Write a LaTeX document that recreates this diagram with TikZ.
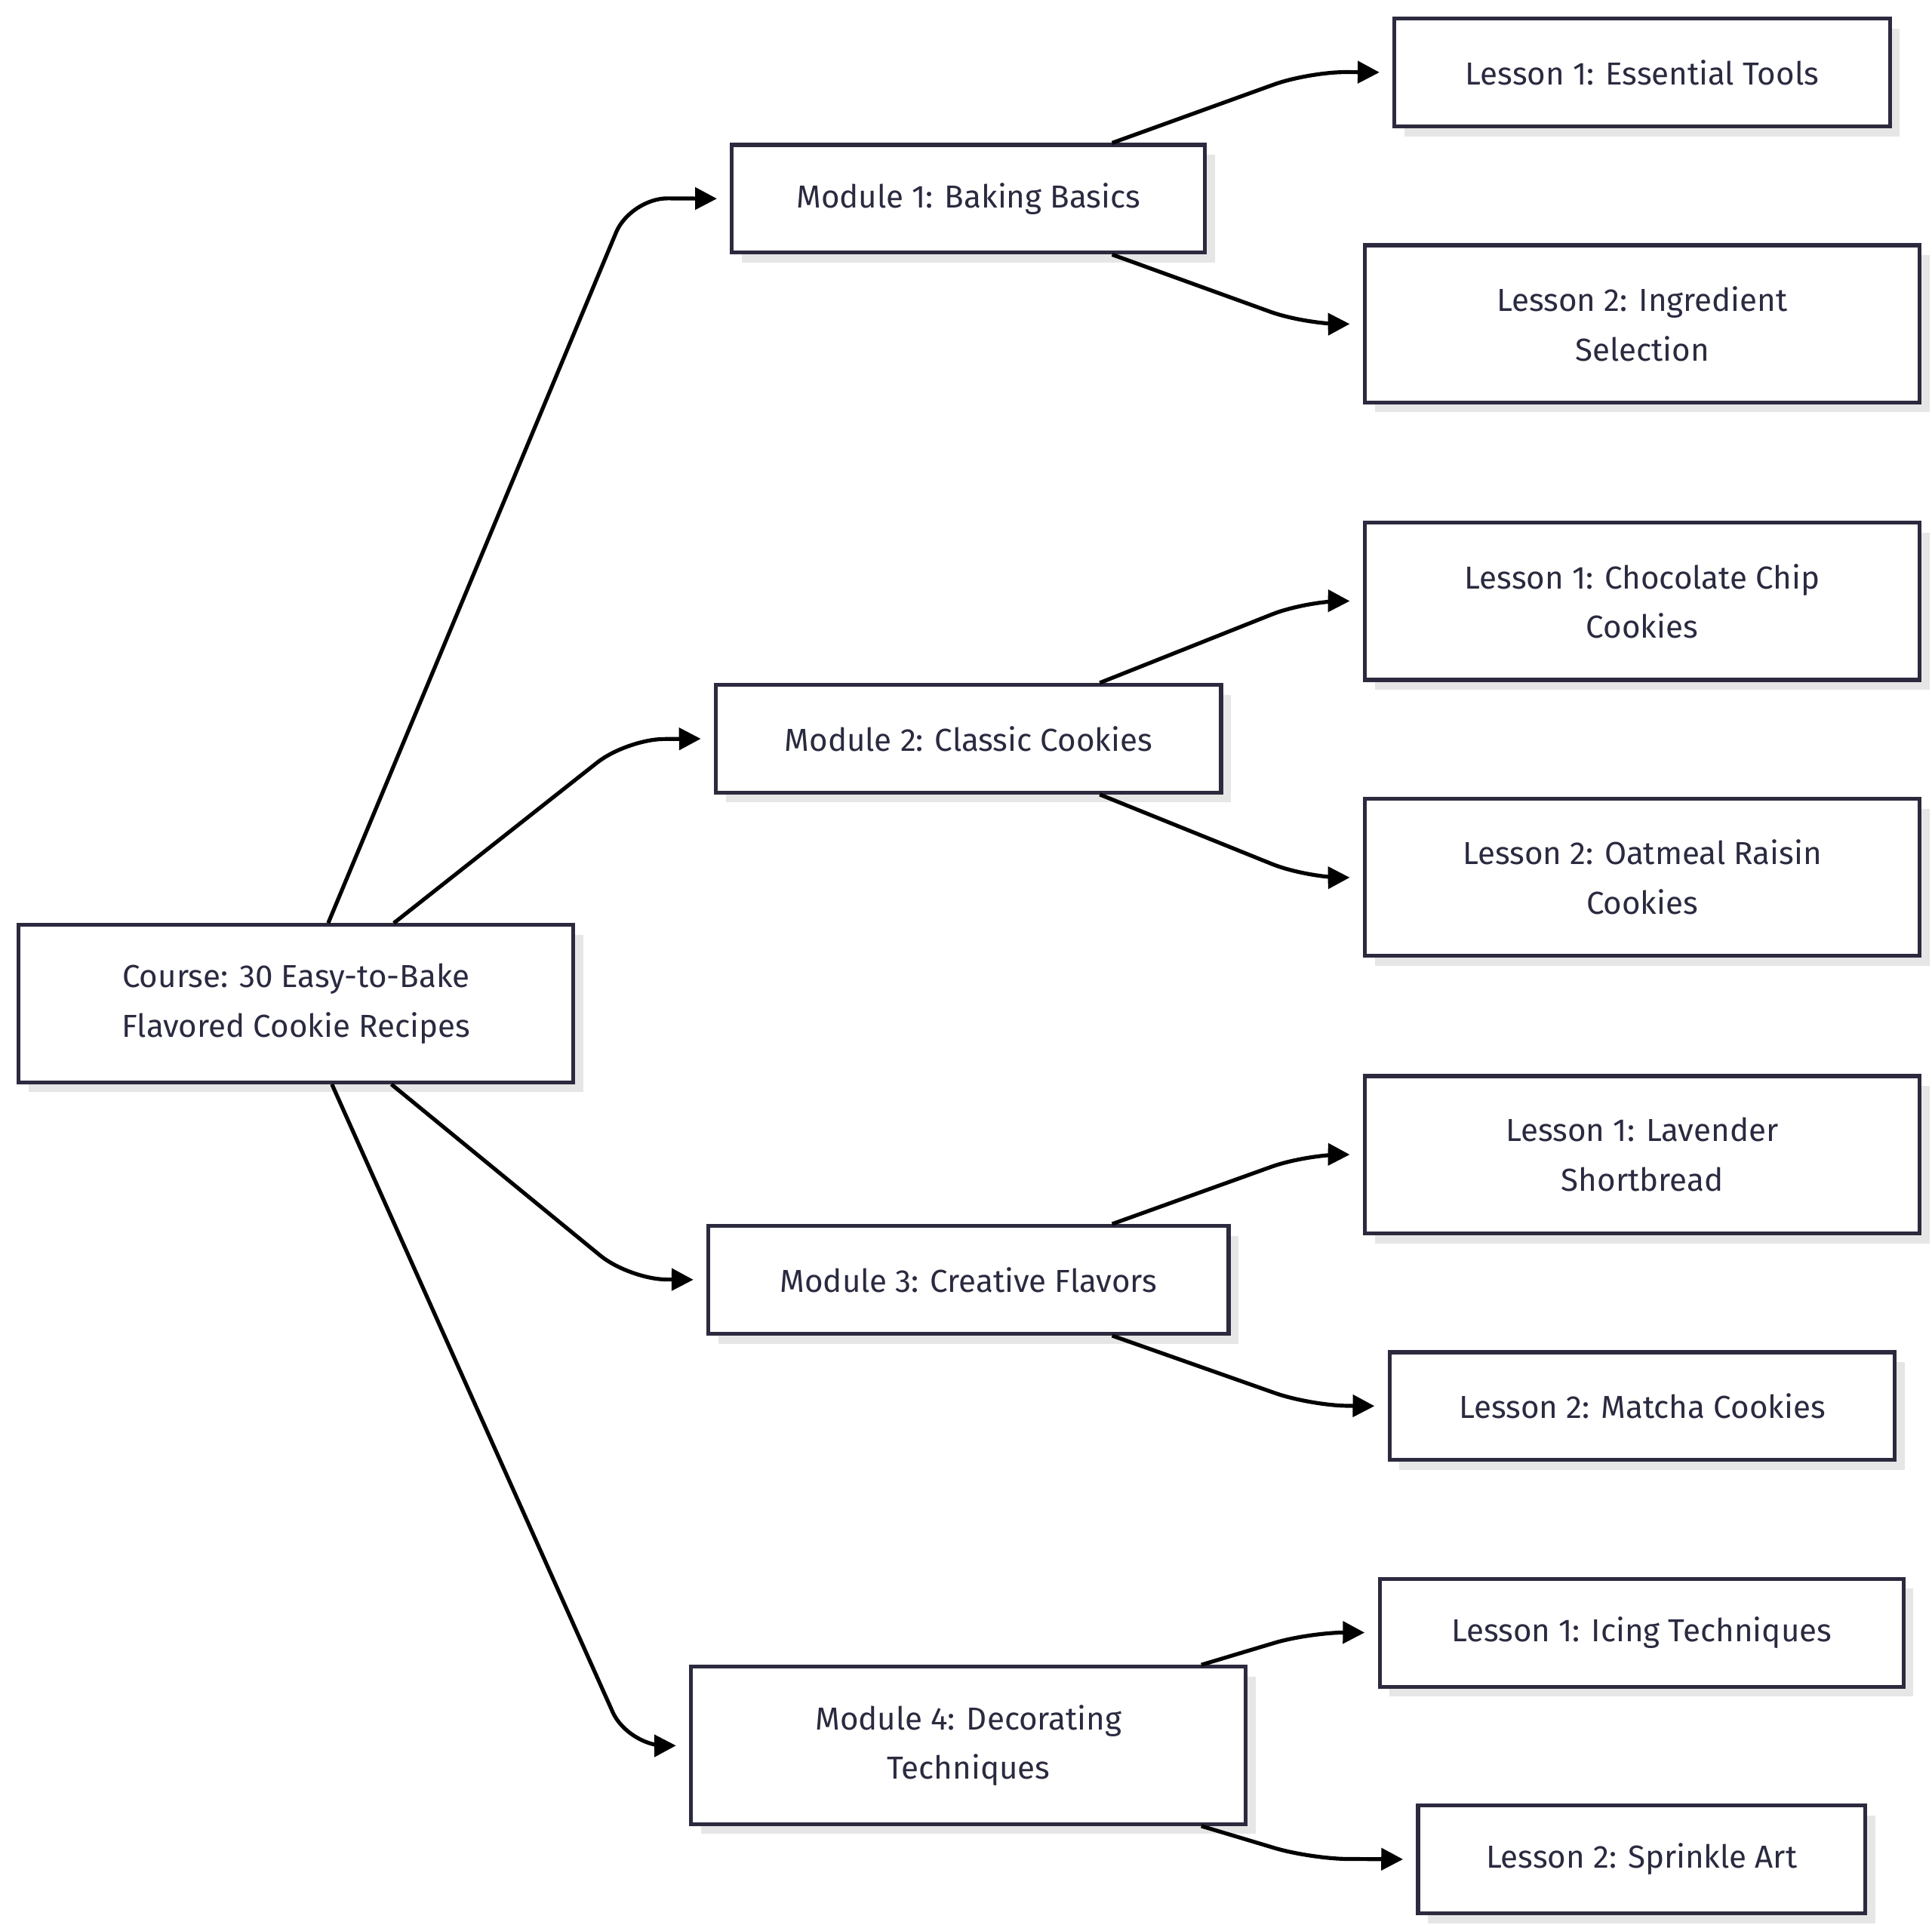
\documentclass[tikz,border=0pt]{standalone}
\usepackage{fontspec}
\setmainfont{Fira Sans}
\usetikzlibrary{arrows.meta}
\definecolor{bd}{HTML}{2C2A3E}
\definecolor{tx}{HTML}{2A2A40}
\definecolor{sh}{HTML}{E6E6E6}
\begin{document}
\begin{tikzpicture}[x=0.01cm,y=-0.01cm,
  box/.style={draw=bd,line width=0.9pt,fill=white,text=tx,align=center,
    font=\fontsize{7.3}{11.4}\selectfont,inner sep=0pt},
  e/.style={draw=black,line width=0.9pt,rounded corners=0.3cm,-{Triangle[length=5pt,width=5pt]},shorten >=3pt}]
\useasboundingbox (0,0) rectangle (1560,1554);
\newcommand{\bx}[6]{%
  \fill[sh] (#2+8,#3+8) rectangle (#4+8,#5+8);
  \node[box,minimum width={(#4-#2)*0.01cm},minimum height={(#5-#3)*0.01cm}] (#1) at ({(#2+#4)/2},{(#3+#5)/2}) {#6};}
\bx{c}{15}{747}{463}{874}{Course: 30 Easy-to-Bake\\Flavored Cookie Recipes}
\bx{m1}{591}{117}{973}{204}{Module 1: Baking Basics}
\bx{m2}{578}{553}{986}{640}{Module 2: Classic Cookies}
\bx{m3}{572}{990}{992}{1077}{Module 3: Creative Flavors}
\bx{m4}{558}{1346}{1006}{1473}{Module 4: Decorating\\Techniques}
\bx{a1}{1126}{15}{1526}{102}{Lesson 1: Essential Tools}
\bx{a2}{1102}{198}{1550}{325}{Lesson 2: Ingredient\\Selection}
\bx{b1}{1102}{422}{1550}{549}{Lesson 1: Chocolate Chip\\Cookies}
\bx{b2}{1102}{645}{1550}{772}{Lesson 2: Oatmeal Raisin\\Cookies}
\bx{c1}{1102}{869}{1550}{996}{Lesson 1: Lavender\\Shortbread}
\bx{c2}{1122}{1092}{1530}{1179}{Lesson 2: Matcha Cookies}
\bx{d1}{1114}{1275}{1537}{1362}{Lesson 1: Icing Techniques}
\bx{d2}{1145}{1458}{1506}{1545}{Lesson 2: Sprinkle Art}
\draw[e] (c.north -| 265,0) -- (509,160) -- (m1.west);
\draw[e] (c.north -| 318,0) -- (506,597) -- (m2.west);
\draw[e] (c.south -| 316,0) -- (508,1033) -- (m3.west);
\draw[e] (c.south -| 268,0) -- (507,1410) -- (m4.west);
\draw[e] (m1.north -| 898,0) -- (1057,58) -- (a1.west);
\draw[e] (m1.south -| 898,0) -- (1054,262) -- (a2.west);
\draw[e] (m2.north -| 888,0) -- (1055,485) -- (b1.west);
\draw[e] (m2.south -| 888,0) -- (1055,709) -- (b2.west);
\draw[e] (m3.north -| 898,0) -- (1055,932) -- (c1.west);
\draw[e] (m3.south -| 898,0) -- (1058,1135) -- (c2.west);
\draw[e] (m4.north -| 970,0) -- (1058,1318) -- (d1.west);
\draw[e] (m4.south -| 970,0) -- (1058,1501) -- (d2.west);
\end{tikzpicture}
\end{document}
